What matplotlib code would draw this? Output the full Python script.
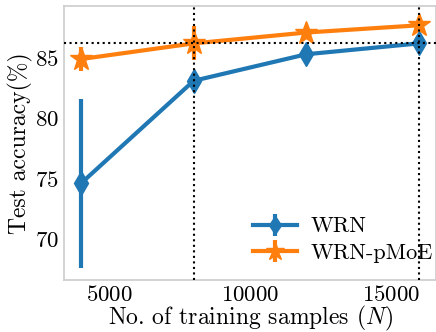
import matplotlib
matplotlib.use("Agg")
import matplotlib.pyplot as plt

plt.rcParams['font.family'] = 'serif'
plt.rcParams['font.serif'] = ['cmr10', 'DejaVu Serif']
plt.rcParams['mathtext.fontset'] = 'cm'
plt.rcParams['axes.formatter.use_mathtext'] = True

samples = [4000, 8000, 12000, 16000]
wrn_mean = [74.6, 83.1, 85.3, 86.2]
wrn_err = [7.0, 0.5, 0.4, 0.4]
pmoe_mean = [84.9, 86.2, 87.1, 87.7]
pmoe_err = [1.0, 1.4, 0.4, 0.4]
xticks = [5000, 10000, 15000]
yticks = [70, 75, 80, 85]

fig = plt.figure(figsize=(4.36, 3.32), dpi=100)
ax = fig.add_axes([0.147, 0.157, 0.853, 0.825])

ax.errorbar(samples, wrn_mean, yerr=wrn_err, color='#1f77b4', marker='d',
            markersize=12, linewidth=3, elinewidth=3, capsize=0, label='WRN')
ax.errorbar(samples, pmoe_mean, yerr=pmoe_err, color='#ff7f0e', marker='*',
            markersize=17, linewidth=3, elinewidth=3, capsize=0, label='WRN-pMoE')

ax.axhline(wrn_mean[-1], color='black', linestyle=':', linewidth=1.5, zorder=5)
ax.axvline(samples[1], color='black', linestyle=':', linewidth=1.5, zorder=5)
ax.axvline(samples[-1], color='black', linestyle=':', linewidth=1.5, zorder=5)

ax.set_xlim(3400, 16600)
ax.set_ylim(66.6, 89.3)
ax.set_xticks(xticks)
ax.set_yticks(yticks)
ax.tick_params(length=0, labelsize=16.5, pad=4)
for s in ax.spines.values():
    s.set_color('#cccccc')
    s.set_linewidth(1.2)

ax.set_xlabel(r'No. of training samples ($N$)', fontsize=17, labelpad=-1)
ax.set_ylabel('Test accuracy(%)', fontsize=17, labelpad=1)

ax.legend(loc='lower right', frameon=False, fontsize=16, markerscale=0.8,
          bbox_to_anchor=(1.045, -0.01), handletextpad=0.6, labelspacing=0.3)

fig.savefig('out.png', dpi=100)
